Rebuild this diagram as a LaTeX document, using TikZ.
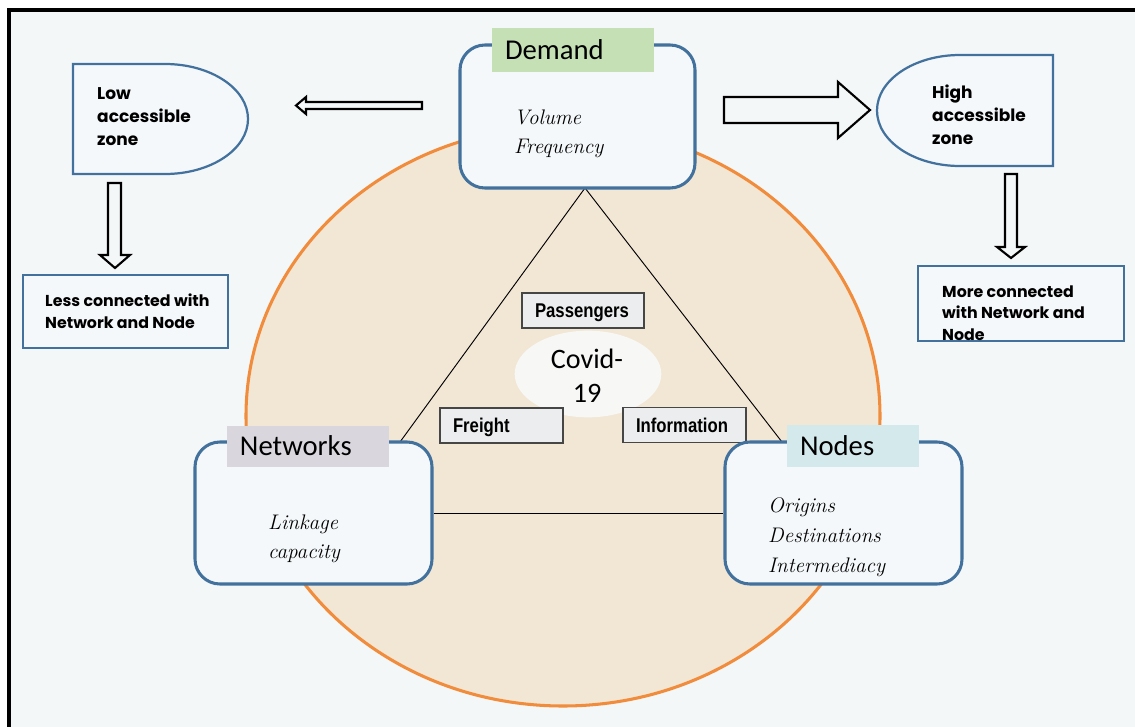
\documentclass[tikz,border=0pt]{standalone}
\usepackage{fontspec}
\usetikzlibrary{shapes.geometric}
\newfontfamily\calib{Carlito}
\newfontfamily\comic{Poppins}
\newfontfamily\narrow[FakeStretch=0.84]{Liberation Sans}
\definecolor{bg}{RGB}{244,247,248}
\definecolor{boxblue}{RGB}{65,113,156}
\definecolor{boxfill}{RGB}{245,248,250}
\definecolor{ringorange}{RGB}{240,140,60}
\definecolor{beige}{RGB}{242,230,212}
\definecolor{greenlab}{RGB}{197,224,180}
\definecolor{graylab}{RGB}{217,214,222}
\definecolor{teallab}{RGB}{212,233,236}
\definecolor{smallfill}{RGB}{236,237,238}
\definecolor{smalldraw}{RGB}{70,70,70}
\definecolor{covidfill}{RGB}{247,247,246}
\begin{document}
\begin{tikzpicture}[x=0.03cm,y=-0.03cm,
  rbox/.style={draw=boxblue,line width=2.6pt,rounded corners=0.75cm,fill=boxfill,inner sep=0pt},
  lab/.style={fill=#1,inner ysep=0pt,inner xsep=0.39cm,align=left,
    font=\calib\fontsize{24.5}{29}\selectfont,text height=15.8pt,text depth=0pt},
  body/.style={font=\itshape\fontsize{18}{24.5}\selectfont,align=left,anchor=base west,inner sep=0pt},
  comictxt/.style={font=\comic\bfseries\fontsize{14.5}{19.5}\selectfont,align=left,anchor=base west,inner sep=0pt},
  conntxt/.style={font=\comic\bfseries\fontsize{13.5}{18}\selectfont,align=left,anchor=base west,inner sep=0pt},
  smallbox/.style={draw=smalldraw,fill=smallfill,line width=1.3pt,inner ysep=0pt,inner xsep=0.39cm,
    align=left,font=\narrow\bfseries\fontsize{17}{20}\selectfont,text height=12.2pt,text depth=0pt,
    minimum height=1.05cm},
  zone/.style={draw=boxblue,line width=1.9pt,fill=boxfill},
  hollow/.style={draw=black,fill=bg,line width=1.8pt,line join=miter},
  tri/.style={draw=black,line width=0.8pt}]
\useasboundingbox (0,0) rectangle (1135,727);
\fill[white] (0,0) rectangle (1135,727);
\fill[bg] (9,10) rectangle (1135,727);
\draw[line width=2.6pt] (9,727) -- (9,10) -- (1135,10);

% big circle
\draw[fill=beige,draw=ringorange,line width=2.6pt] (563,416) ellipse [x radius=317, y radius=290];

% triangle coordinates
\coordinate (apex) at (585,188);
\coordinate (lv) at (400,442);
\coordinate (rv) at (782,442);

% covid centre
\node[fill=covidfill,ellipse,minimum width=4.4cm,minimum height=2.6cm,inner sep=0pt] (covidbg) at (588,374) {};
\node[font=\calib\fontsize{24}{29}\selectfont,align=center,anchor=base,inner sep=0pt] (covid) at (587,402) {Covid-\\19};

% small boxes
\node[smallbox,text width={(122-26)*0.03cm}] (pass) at (583,310.5) {Passengers};
\node[smallbox,text width={(123-26)*0.03cm}] (freight) at (501.5,425.5) {Freight};
\node[smallbox,text width={(123-26)*0.03cm}] (info) at (684.5,425) {Information};

% triangle
\draw[tri] (apex) -- (lv);
\draw[tri] (apex) -- (rv);

% main boxes
\node[rbox,minimum width=7.05cm,minimum height=4.29cm] (demand) at (577.5,116.5) {};
\node[rbox,minimum width=7.11cm,minimum height=4.26cm] (networks) at (313.5,513) {};
\node[rbox,minimum width=7.11cm,minimum height=4.26cm] (nodes) at (843.5,513) {};
\draw[tri] (networks.east) -- (nodes.west);

\node[lab=greenlab,text width=4.08cm,minimum height=1.32cm] (demandlab) at (573,50) {Demand};
\node[lab=graylab,text width=4.08cm,minimum height=1.23cm] (networkslab) at (308,446.5) {Networks};
\node[lab=teallab,text width=3.18cm,minimum height=1.26cm] (nodeslab) at (853,446) {Nodes};

\node[body] (demandbody) at (514,153) {Volume\\Frequency};
\node[body] (networksbody) at (268,558) {Linkage\\capacity};
\node[body,font=\itshape\fontsize{18}{25.5}\selectfont] (nodesbody) at (768,572) {Origins\\Destinations\\Intermediacy};

% zones
\draw[zone] (73,64) -- (165,64) .. controls (210.8,64) and (248,88.6) .. (248,119)
  .. controls (248,149.4) and (210.8,174) .. (165,174) -- (73,174) -- cycle;
\node[comictxt] (lowtxt) at (97,145) {Low\\accessible\\zone};
\draw[zone] (1053,55) -- (960,55) .. controls (914.2,55) and (877,79.9) .. (877,110.5)
  .. controls (877,141.2) and (914.2,166) .. (960,166) -- (1053,166) -- cycle;
\node[comictxt] (hightxt) at (932,144) {High\\accessible\\zone};

\node[draw=boxblue,line width=2.2pt,fill=boxfill,minimum width={205*0.03cm},minimum height={73*0.03cm},inner sep=0pt] (less) at (125.5,311.5) {};
\node[conntxt] (lesstxt) at (45,328) {Less connected with\\Network and Node};
\node[draw=boxblue,line width=2.2pt,fill=boxfill,minimum width={206*0.03cm},minimum height={75*0.03cm},inner sep=0pt] (more) at (1021,303.5) {};
\node[conntxt] (moretxt) at (942,340) {More connected\\with Network and\\Node};

% hollow arrows
\draw[hollow] (422,102) -- (306,102) -- (306,97) -- (296,105.5) -- (306,114) -- (306,109) -- (422,109) -- cycle;
\draw[hollow] (724,97) -- (838,97) -- (838,82) -- (870,110) -- (838,138) -- (838,123) -- (724,123) -- cycle;
\draw[hollow] (108,183) -- (121,183) -- (121,255) -- (130,255) -- (115,268) -- (100,255) -- (108,255) -- cycle;
\draw[hollow] (1005,174) -- (1017,174) -- (1017,247) -- (1025,247) -- (1011,258) -- (997,247) -- (1005,247) -- cycle;
\end{tikzpicture}
\end{document}
